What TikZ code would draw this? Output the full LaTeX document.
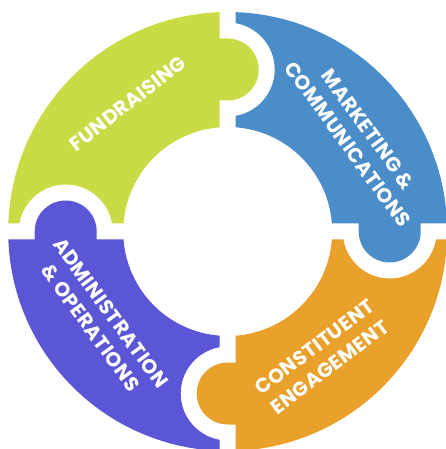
\documentclass[tikz,border=0pt]{standalone}
\usepackage{fontspec}
\setmainfont{Poppins}[LetterSpace=2]
\definecolor{cgreen}{RGB}{201,219,69}
\definecolor{cblue}{RGB}{75,141,201}
\definecolor{corange}{RGB}{233,161,43}
\definecolor{cpurple}{RGB}{91,86,214}
\tikzset{
  lbl/.style={text=white, font=\fontsize{20}{25}\selectfont\bfseries, align=center, inner sep=0pt}
}
\newcommand\puzzlepiece{%
  (-\g,\yo) -- (-\g,\m+\t) -- (0,\m+\t)
  arc[start angle=90,end angle=-90,radius=\t]
  -- (-\g,\m-\t) -- (-\g,\yi)
  arc[start angle=90+\bi,end angle=180-\bi,radius=\r]
  -- (-\m+\xn,\g)
  arc[start angle=\an,end angle=180-\an,radius=\n]
  -- (-\yo,\g)
  arc[start angle=180-\ai,end angle=90+\ai,radius=\R]
  -- cycle}
\begin{document}
\begin{tikzpicture}[x=1pt,y=1pt]
\useasboundingbox (-227.7,-217.5) rectangle (218.3,231.5);
\clip (-227.7,-217.5) rectangle (218.3,231.5);
\def\R{219.5}\def\r{104.5}\def\g{8}\def\m{162}\def\t{31}\def\n{47}
\pgfmathsetmacro\ai{asin(\g/\R)}
\pgfmathsetmacro\yo{\R*cos(\ai)}
\pgfmathsetmacro\bi{asin(\g/\r)}
\pgfmathsetmacro\yi{\r*cos(\bi)}
\pgfmathsetmacro\an{asin(\g/\n)}
\pgfmathsetmacro\xn{\n*cos(\an)}
\fill[cgreen] \puzzlepiece;
\begin{scope}[rotate=-90]\fill[cblue] \puzzlepiece;\end{scope}
\begin{scope}[rotate=-180]\fill[corange] \puzzlepiece;\end{scope}
\begin{scope}[rotate=-270]\fill[cpurple] \puzzlepiece;\end{scope}
\node[lbl, rotate=38] (fund) at (128:162.5) {FUNDRAISING};
\node[lbl, rotate=-54] (mkt) at (36:161) {MARKETING \&\\COMMUNICATIONS};
\node[lbl, rotate=37] (con) at (-53:157) {CONSTITUENT\\ENGAGEMENT};
\node[lbl, rotate=-54] (adm) at (215:155) {ADMINISTRATION\\\& OPERATIONS};
\end{tikzpicture}
\end{document}
